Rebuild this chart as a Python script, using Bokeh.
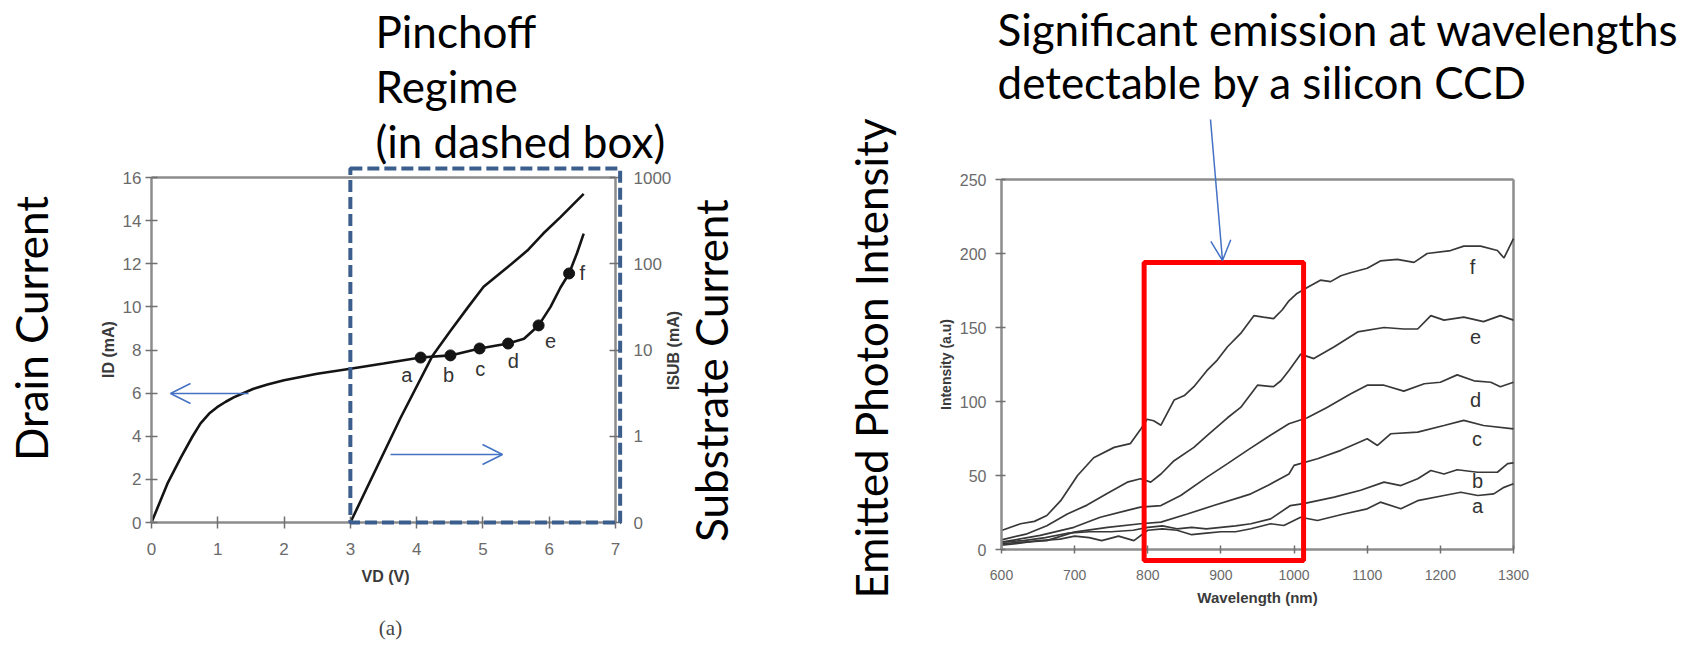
import math
from bokeh.plotting import figure
from bokeh.models import (Range1d, LogScale, LinearAxis, LogAxis, FixedTicker, Label, Arrow,
                          OpenHead, BoxAnnotation)
from bokeh.embed import file_html
from bokeh.resources import INLINE

# ---------------- data: left panel (drain / substrate current) ----------------
vd_id = [0, 0.24, 0.44, 0.62, 0.74, 0.87, 0.99, 1.12, 1.24, 1.40, 1.54, 1.75, 2.0,
         2.5, 3.0, 3.5, 4.06, 4.51, 4.95, 5.38, 5.62, 5.84, 6.02, 6.17, 6.30, 6.42, 6.52]
id_ma = [0, 1.8, 3.0, 4.0, 4.6, 5.05, 5.35, 5.6, 5.8, 6.02, 6.2, 6.4, 6.6,
         6.9, 7.13, 7.37, 7.65, 7.75, 8.07, 8.30, 8.52, 9.14, 10.0, 10.9, 11.55, 12.5, 13.4]
vd_sub = [3.0, 3.76, 4.24, 4.5, 4.77, 5.01, 5.37, 5.67, 5.91, 6.17, 6.52]
isub_ma = [0.1, 1.65, 8.6, 16.3, 31, 54, 91, 142, 224, 347, 646]
pt_vd = [4.06, 4.51, 4.95, 5.38, 5.84, 6.30]
pt_id = [7.65, 7.75, 8.07, 8.30, 9.14, 11.55]
pt_names = ["a", "b", "c", "d", "e", "f"]
vd_ticks = [0, 1, 2, 3, 4, 5, 6, 7]
id_ticks = [0, 2, 4, 6, 8, 10, 12, 14, 16]
isub_ticks = [0.1, 1.0, 10.0, 100.0, 1000.0]
isub_tick_labels = ["0", "1", "10", "100", "1000"]
pinchoff_vd = [3.0, 7.07]     # dashed box extent (V)
pinchoff_id = [0.0, 16.42]    # dashed box extent (mA)

# ---------------- data: right panel (emission spectra) ----------------
wl_f = [600, 626, 645, 662, 681, 704, 726, 754, 776, 790, 799, 808, 818, 836, 850, 863, 881,
        895, 909, 927, 945, 958, 972, 984, 993, 1004, 1018, 1036, 1050, 1064, 1077, 1100,
        1118, 1141, 1164, 1182, 1214, 1232, 1255, 1278, 1287, 1300]
int_f = [12.8, 17.4, 19, 23, 33, 50, 62, 69, 71.5, 81, 88, 87, 84, 101, 104, 110, 121,
         128, 137, 146, 158, 157, 156, 162, 168, 173, 177, 182, 181, 185, 187, 190,
         195, 196, 194, 200, 202, 205, 205, 202, 197, 210]
wl_e = [600, 635, 662, 690, 717, 745, 772, 790, 804, 818, 836, 863, 881, 909, 927, 950, 972,
        982, 993, 1009, 1027, 1055, 1087, 1123, 1150, 1169, 1187, 1205, 1232, 1259, 1282, 1300]
int_e = [6.5, 10.6, 16, 24, 30, 38, 45.5, 47.8, 45.5, 51, 60, 69, 77, 89, 96, 111, 110,
         114, 121, 132, 129, 137, 147, 150, 149, 149, 158, 155, 157, 154, 158, 155]
wl_d = [600, 653, 699, 735, 772, 790, 818, 845, 881, 909, 936, 964, 993, 1018, 1045, 1077,
        1100, 1123, 1150, 1178, 1200, 1223, 1246, 1269, 1282, 1300]
int_d = [5, 9.5, 15, 21.8, 26.4, 28.6, 29.7, 36.5, 48.9, 58, 67, 76, 85, 89, 96, 105,
         111, 111, 107, 112, 113, 118, 114, 113, 110, 113]
wl_c = [600, 662, 699, 745, 790, 818, 854, 890, 927, 941, 964, 993, 1000, 1032, 1064, 1100,
        1114, 1132, 1169, 1205, 1232, 1259, 1300]
int_c = [4, 6, 11.7, 15, 17.4, 18.5, 24, 29.7, 35.4, 37.6, 43.2, 51, 56.8, 61.3, 67, 74.8,
         70.3, 78.2, 79.3, 83.8, 87.2, 83.8, 81.5]
wl_b = [600, 630, 660, 690, 720, 750, 780, 800, 820, 840, 860, 880, 900, 920, 941, 968, 995,
        1013, 1055, 1091, 1123, 1146, 1169, 1187, 1205, 1223, 1251, 1278, 1292, 1300]
int_b = [5, 6, 8, 11, 12, 12, 13, 15, 16, 14, 15, 14, 15, 16, 17.4, 20.7, 29.7,
         31, 35.4, 40, 45.5, 43.2, 47.8, 53.4, 51, 53.9, 52.2, 52.2, 58, 58.5]
wl_a = [600, 620, 650, 680, 700, 720, 737, 760, 781, 800, 820, 840, 860, 880, 900, 920, 941,
        968, 986, 1009, 1032, 1068, 1100, 1118, 1146, 1169, 1205, 1228, 1251, 1273, 1287, 1300]
int_a = [3, 4, 6, 7, 9, 8, 6, 9, 6, 13, 14, 13, 10, 11, 12, 12, 14,
         17.4, 16.2, 21.8, 19.6, 24, 27.5, 32, 27.5, 33, 36.5, 38.7, 36.5, 37.6, 42, 44.4]
spectra = [("a", wl_a, int_a), ("b", wl_b, int_b), ("c", wl_c, int_c),
           ("d", wl_d, int_d), ("e", wl_e, int_e), ("f", wl_f, int_f)]
wl_ticks = [600, 700, 800, 900, 1000, 1100, 1200, 1300]
int_ticks = [0, 50, 100, 150, 200, 250]
ccd_wl = [795, 1013]          # red box extent (nm)
ccd_int = [-7.4, 194]         # red box extent (a.u.)

# ---------------- page geometry (pixels) ----------------
W, H = 1698, 647
L_X = (151, 615)     # page x of Vd = 0 and 7
L_Y = (522, 177)     # page y of Id = 0 and 16 (also Isub = 0.1 and 1000)
R_X = (1001, 1513)   # page x of 600 and 1300 nm
R_Y = (549, 179)     # page y of intensity 0 and 250

BIG_FONT = "Lato"
BIG_SIZE = "44px"
AX_FONT = "Liberation Sans"
BLUE = "#4472c4"
GREY = "#8c8c8c"


def x_range_for(p, v):
    k = (p[1] - p[0]) / (v[1] - v[0])
    return Range1d(v[0] + (0 - p[0]) / k, v[0] + (W - p[0]) / k)


def y_range_for(p, v):
    k = (p[1] - p[0]) / (v[1] - v[0])
    return Range1d(v[0] + (H - p[0]) / k, v[0] + (0 - p[0]) / k)


P = figure(width=W, height=H, x_range=Range1d(0, W), y_range=Range1d(H, 0),
           x_axis_type=None, y_axis_type=None, min_border=0,
           output_backend="svg", toolbar_location=None,
           outline_line_color=None, background_fill_color="white", border_fill_color="white")
P.grid.visible = False

log_sub = y_range_for(L_Y, (math.log10(isub_ticks[0]), math.log10(isub_ticks[-1])))
P.extra_x_ranges = {"vd": x_range_for(L_X, (vd_ticks[0], vd_ticks[-1])),
                    "wl": x_range_for(R_X, (wl_ticks[0], wl_ticks[-1]))}
P.extra_y_ranges = {"id": y_range_for(L_Y, (id_ticks[0], id_ticks[-1])),
                    "sub": Range1d(10 ** log_sub.start, 10 ** log_sub.end),
                    "inten": y_range_for(R_Y, (int_ticks[0], int_ticks[-1]))}
P.extra_y_scales = {"sub": LogScale()}


def style_axis(ax, size, tin=6, tout=6, standoff=8):
    ax.axis_line_color = GREY
    ax.axis_line_width = 2.5
    ax.major_tick_line_color = "#707070"
    ax.major_tick_line_width = 1.5
    ax.major_tick_in = tin
    ax.major_tick_out = tout
    ax.minor_tick_line_color = None
    ax.major_label_text_font = AX_FONT
    ax.major_label_text_font_size = size
    ax.major_label_text_color = "#6a6a6a"
    ax.major_label_standoff = standoff
    return ax


# ---- left chart axes ----
P.add_layout(style_axis(LinearAxis(x_range_name="vd", y_range_name="id", fixed_location=vd_ticks[0],
                                   bounds=(vd_ticks[0], vd_ticks[-1]), ticker=FixedTicker(ticks=vd_ticks)),
                        "17px", standoff=14), "below")
P.add_layout(style_axis(LinearAxis(x_range_name="vd", y_range_name="id", fixed_location=vd_ticks[0],
                                   bounds=(id_ticks[0], id_ticks[-1]), ticker=FixedTicker(ticks=id_ticks)),
                        "17px", standoff=4), "left")
P.add_layout(style_axis(LogAxis(x_range_name="vd", y_range_name="sub", fixed_location=vd_ticks[-1],
                                bounds=(isub_ticks[0], isub_ticks[-1]), ticker=FixedTicker(ticks=isub_ticks),
                                major_label_overrides=dict(zip(isub_ticks, isub_tick_labels))),
                        "17px", standoff=12), "right")
P.line([vd_ticks[0], vd_ticks[-1]], [id_ticks[-1], id_ticks[-1]], x_range_name="vd", y_range_name="id",
       line_color=GREY, line_width=2.5)

# ---- left chart data ----
P.line(vd_id, id_ma, x_range_name="vd", y_range_name="id", line_color="#141414", line_width=2.6)
P.line(vd_sub, isub_ma, x_range_name="vd", y_range_name="sub", line_color="#141414", line_width=2.6)
P.scatter(pt_vd, pt_id, x_range_name="vd", y_range_name="id", size=11, color="#141414")

letter_offsets = [(-0.21, -0.83), (-0.03, -0.93), (0.01, -0.93), (0.08, -0.8), (0.18, -0.7), (0.2, 0.0)]
for name, x, y, (dx, dy) in zip(pt_names, pt_vd, pt_id, letter_offsets):
    P.add_layout(Label(x=x + dx, y=y + dy, x_range_name="vd", y_range_name="id", text=name,
                       text_align="center", text_baseline="middle",
                       text_font=AX_FONT, text_font_size="20px", text_color="#333333"))

P.add_layout(BoxAnnotation(left=pinchoff_vd[0], right=pinchoff_vd[1], bottom=pinchoff_id[0], top=pinchoff_id[1],
                           x_range_name="vd", y_range_name="id", fill_alpha=0, fill_color=None,
                           line_color="#3b5e8c", line_alpha=1, line_width=4, line_dash="12 5"))

# ---- right chart axes ----
P.add_layout(style_axis(LinearAxis(x_range_name="wl", y_range_name="inten", fixed_location=int_ticks[0],
                                   bounds=(wl_ticks[0], wl_ticks[-1]), ticker=FixedTicker(ticks=wl_ticks)),
                        "14px", tin=4, tout=4, standoff=16), "below")
P.add_layout(style_axis(LinearAxis(x_range_name="wl", y_range_name="inten", fixed_location=wl_ticks[0],
                                   bounds=(int_ticks[0], int_ticks[-1]), ticker=FixedTicker(ticks=int_ticks)),
                        "16px", tin=4, tout=6, standoff=9), "left")
P.line([wl_ticks[0], wl_ticks[-1]], [int_ticks[-1], int_ticks[-1]], x_range_name="wl", y_range_name="inten",
       line_color=GREY, line_width=2.5)
P.line([wl_ticks[-1], wl_ticks[-1]], [int_ticks[0], int_ticks[-1]], x_range_name="wl", y_range_name="inten",
       line_color=GREY, line_width=2.5)

# ---- right chart data ----
curve_label_pos = {"f": (1244, 190.7), "e": (1248, 143.4), "d": (1248, 100.7),
                   "c": (1250, 74.8), "b": (1251, 46.6), "a": (1251, 29.7)}
for name, wl, inten in spectra:
    P.line(wl, inten, x_range_name="wl", y_range_name="inten", line_color="#383838", line_width=1.7)
    lx, ly = curve_label_pos[name]
    P.add_layout(Label(x=lx, y=ly, x_range_name="wl", y_range_name="inten", text=name,
                       text_align="center", text_baseline="middle",
                       text_font=AX_FONT, text_font_size="20px", text_color="#333333"))

P.add_layout(BoxAnnotation(left=ccd_wl[0], right=ccd_wl[1], bottom=ccd_int[0], top=ccd_int[1],
                           x_range_name="wl", y_range_name="inten", fill_alpha=0, fill_color=None,
                           line_color="#ff0000", line_alpha=1, line_width=5))


# ---- texts (page pixel coordinates) ----
def big(px, py, text, angle=0.0, align="left"):
    P.add_layout(Label(x=px, y=py, text=text, angle=angle, text_align=align, text_baseline="alphabetic",
                       text_font=BIG_FONT, text_font_size=BIG_SIZE, text_color="black"))


def axis_title(px, py, text, size="16px", angle=0.0):
    P.add_layout(Label(x=px, y=py, text=text, angle=angle, text_align="center", text_baseline="middle",
                       text_font=AX_FONT, text_font_style="bold", text_font_size=size,
                       text_color="#3a3a3a"))


big(375, 30, "Pinchoff")
big(375, 85, "Regime")
big(375, 140, "(in dashed box)")
big(30, 328, "Drain Current", angle=math.pi / 2, align="center")
big(710, 370, "Substrate Current", angle=math.pi / 2, align="center")
big(997, 28, "Significant emission at wavelengths")
big(997, 81, "detectable by a silicon CCD")
big(870, 358, "Emitted Photon Intensity", angle=math.pi / 2, align="center")

axis_title(108, 349, "ID (mA)", angle=math.pi / 2)
axis_title(385, 576, "VD (V)")
axis_title(673, 350, "ISUB (mA)", angle=math.pi / 2)
axis_title(945, 364, "Intensity (a.u)", size="14px", angle=math.pi / 2)
axis_title(1257, 597, "Wavelength (nm)", size="15px")
P.add_layout(Label(x=390, y=627, text="(a)", text_align="center", text_baseline="middle",
                   text_font="Liberation Serif", text_font_size="21px", text_color="#444444"))

# ---- blue arrows ----
for (x0, y0, x1, y1) in [(248, 393, 170, 393), (390, 454, 502, 454), (1210, 119, 1222, 260)]:
    P.add_layout(Arrow(end=OpenHead(size=20, line_color=BLUE, line_width=1.5),
                       line_color=BLUE, line_width=1.5,
                       x_start=x0, y_start=y0, x_end=x1, y_end=y1))

open("out.html", "w").write(file_html(P, INLINE))
